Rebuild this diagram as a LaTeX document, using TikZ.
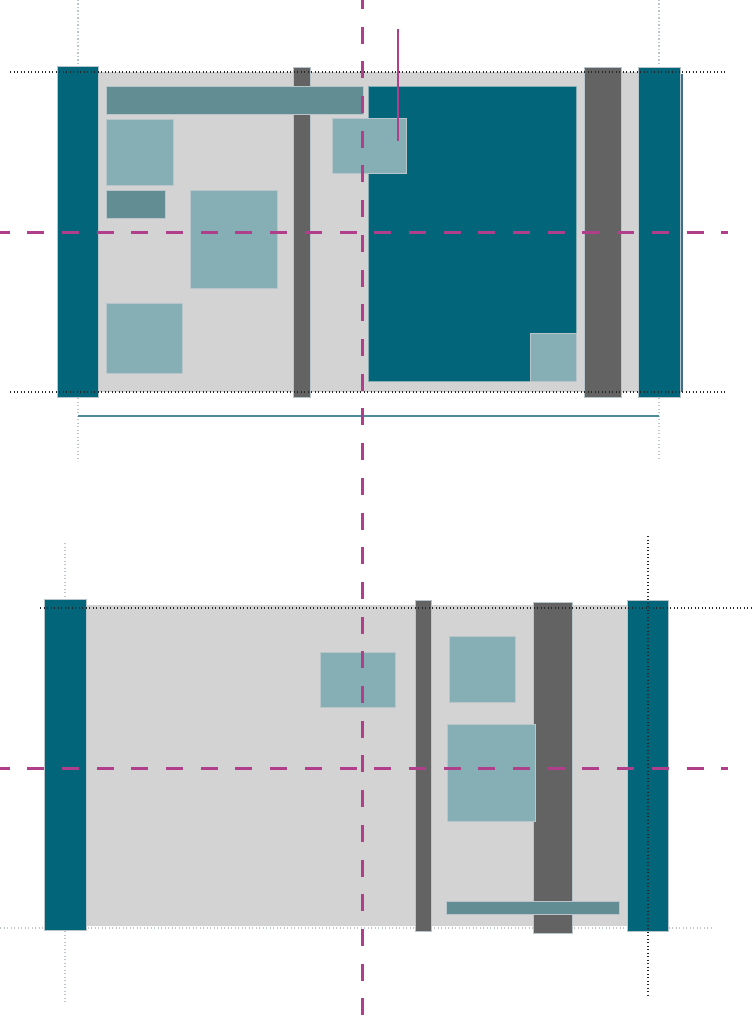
\documentclass[tikz,border=0pt]{standalone}
\usetikzlibrary{calc}
\definecolor{tealD}{HTML}{02657A}
\definecolor{bgG}{HTML}{D3D3D3}
\definecolor{darkG}{HTML}{636363}
\definecolor{lightT}{HTML}{85AFB5}
\definecolor{midT}{HTML}{628D93}
\definecolor{purp}{HTML}{B03E8B}
\definecolor{guideG}{HTML}{BCC6CC}
\definecolor{edgeG}{HTML}{B8C6CC}
\definecolor{thinT}{HTML}{4F8A9C}
\definecolor{thinB}{HTML}{3E6E8C}
\tikzset{
  x=1pt, y=-1pt,
  bgbox/.style={fill=bgG},
  bar/.style={fill=tealD, draw=edgeG, line width=0.6pt},
  darkbar/.style={fill=darkG, draw=edgeG, line width=0.6pt},
  lightbox/.style={fill=lightT, draw=edgeG, line width=0.6pt},
  midbox/.style={fill=midT, draw=edgeG, line width=0.6pt},
  bigbox/.style={fill=tealD, draw=lightT, line width=0.6pt},
  guide/.style={draw=guideG, line width=1.3pt, dash pattern=on 1.3pt off 2.2pt},
  darkguide/.style={draw=black!85, line width=1.4pt, dash pattern=on 1.4pt off 2.1pt},
  purpdash/.style={draw=purp, line width=3pt, dash pattern=on 17pt off 17.7pt},
  purpthin/.style={draw=purp, line width=1.3pt},
}
\begin{document}
\begin{tikzpicture}
\useasboundingbox (0,0) rectangle (754,1027);
\fill[white] (0,0) rectangle (754,1027);

% ---------------- TOP PANEL ----------------
\fill[bgbox] (98,72) rectangle (640,392);
% light guides
\draw[guide] (78,0) -- (78,66);
\draw[guide] (78,398) -- (78,461);
\draw[guide] (659,0) -- (659,66);
\draw[guide] (659,398) -- (659,461);
% thin teal span line
\draw[thinT, line width=1.3pt] (78,416) -- (659,416);
% bars
\draw[bar] (57,66) rectangle (98,397);
\draw[bar] (638,67) rectangle (680,397);
\draw[thinB, line width=1.3pt] (682,74) -- (682,392);
\draw[darkbar] (584,67) rectangle (621,397);
\draw[darkbar] (293,67) rectangle (310,397);
% content boxes
\draw[midbox] (106,86) rectangle (363,114);
\draw[lightbox] (106,119) rectangle (173,185);
\draw[midbox] (106,190) rectangle (165,218);
\draw[lightbox] (190,190) rectangle (277,288);
\draw[lightbox] (106,303) rectangle (182,373);
\draw[bigbox] (368,86) rectangle (576,381);
\draw[lightbox] (530,333) rectangle (576,381);
\draw[lightbox] (332,118) rectangle (406,173);
% dark guides
\draw[darkguide] (10,72) -- (725,72);
\draw[darkguide] (10,392) -- (725,392);
% purple marker line
\draw[purpthin] (398,29) -- (398,141);

% ---------------- BOTTOM PANEL ----------------
\draw[guide] (0,928) -- (714,928);
\fill[bgbox] (86,605) rectangle (640,926);
\draw[guide] (65,543) -- (65,599);
\draw[guide] (65,931) -- (65,1002);
\draw[bar] (44,599) rectangle (86,930);
\draw[bar] (627,600) rectangle (668,931);
\draw[darkbar] (415,600) rectangle (431,931);
\draw[darkbar] (533,602) rectangle (572,933);
\draw[lightbox] (320,652) rectangle (395,707);
\draw[lightbox] (449,636) rectangle (515,702);
\draw[lightbox] (447,724) rectangle (535,821);
\draw[midbox] (446,901) rectangle (619,914);
\draw[darkguide] (40,608) -- (754,608);
\draw[darkguide] (648,536) -- (648,996);

% ---------------- PURPLE AXES ----------------
\draw[purpdash] (362,-8) -- (362,1035);
\draw[purpdash] (-7.5,232) -- (728,232);
\draw[purpdash] (-7.5,768) -- (728,768);
\end{tikzpicture}
\end{document}
